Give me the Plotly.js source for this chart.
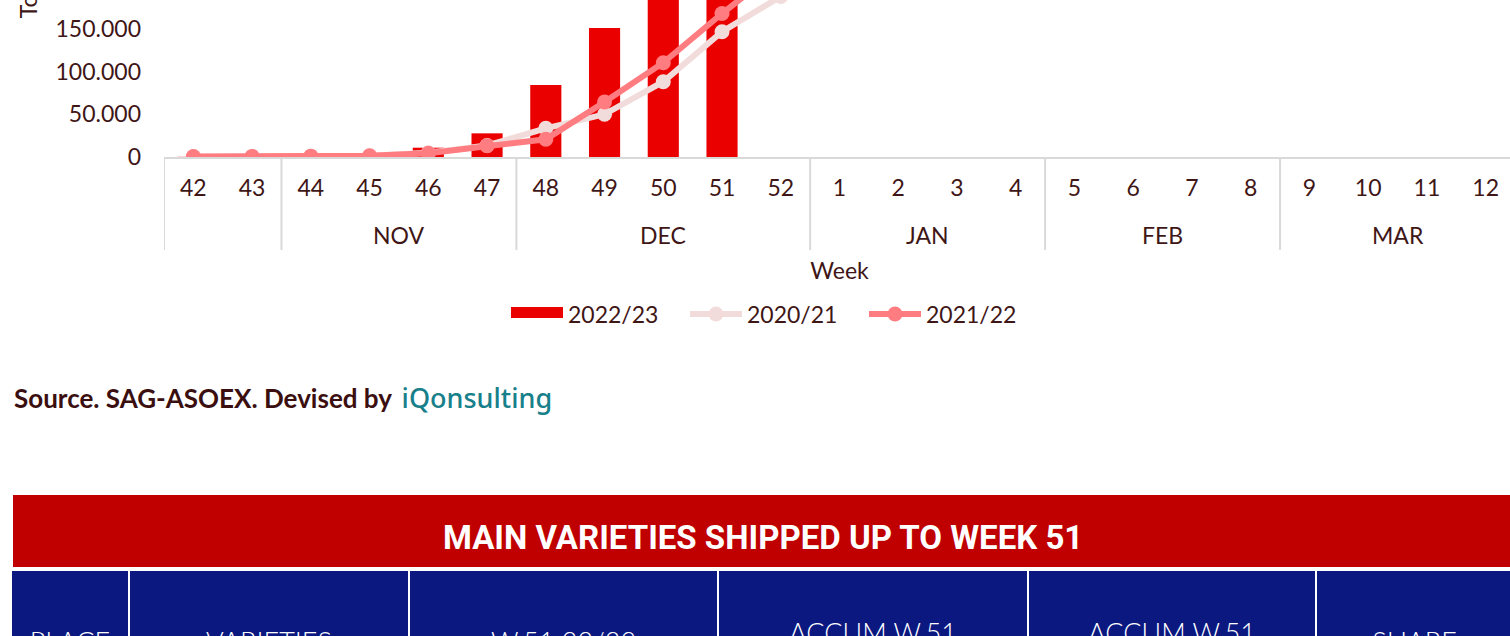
<!DOCTYPE html>
<html><head><meta charset="utf-8">
<script src="https://cdn.plot.ly/plotly-3.0.1.min.js"></script>
<style>
html,body{margin:0;padding:0;overflow:hidden;background:#fff;width:1510px;height:636px;}
#chart{position:absolute;left:0;top:-188px;width:1540px;height:545px;}
#source{position:absolute;left:14px;top:379px;font-family:Lato,sans-serif;font-weight:700;font-size:26px;color:#3b0f0f;white-space:nowrap;}
#source .brand{color:#17808a;font-family:'Noto Sans',sans-serif;font-weight:500;font-size:27px;margin-left:4px;}
#table{position:absolute;left:0;top:495px;width:1530px;height:220px;}
</style></head><body>
<div id="chart"></div>
<div id="source">Source. SAG-ASOEX. Devised by <span class="brand">iQonsulting</span></div>
<div id="table"></div>
<script>
const weeks = ['42','43','44','45','46','47','48','49','50','51','52','1','2','3','4','5','6','7','8','9','10','11','12'];
const months = [' ',' ','NOV','NOV','NOV','NOV','DEC','DEC','DEC','DEC','DEC','JAN','JAN','JAN','JAN','FEB','FEB','FEB','FEB','MAR','MAR','MAR','MAR'];
const exports2223 = [200,400,1000,2000,10900,27700,84300,151000,222000,290000,null,null,null,null,null,null,null,null,null,null,null,null,null];
const exports2021 = [300,600,1000,1500,5000,13500,33600,50000,88200,146700,188000,225000,258000,283000,302000,318000,330000,339000,345000,349000,352000,354000,356000];
const exports2122 = [500,700,1000,1500,4300,13200,20700,64400,110400,168000,222000,268000,300000,325000,345000,360000,370000,378000,383000,387000,390000,392000,393000];
const seriesNames = ['2022/23','2020/21','2021/22'];
const axisTitles = {x:'Week', y:'Tons'};
const tableTitle = 'MAIN VARIETIES SHIPPED UP TO WEEK 51';
const tableHeaders = ['PLACE','VARIETIES','W.51 22/23','ACCUM W.51<br>2022/23','ACCUM W.51<br>2021/22','SHARE'];
const columnWidths = [118,280,309,310,288,197];

const textColor = '#3f1616';
const baseFont = {family:'Lato, sans-serif', size:23, color:textColor};
const colors = {bar:'#EB0000', s2021:'#F2DCDB', s2122:'#FF7C80', divider:'#d9d9d9'};

// month groups -> dividers and group labels on the category axis
const groups = [];
months.forEach((m, i) => {
  const g = groups[groups.length - 1];
  if (g && g.name === m) g.end = i; else groups.push({name:m, start:i, end:i});
});
// numeric category serial position (tiny offset keeps integers from being read as category names)
const catPos = v => Number.isInteger(v) ? v + 1e-6 : v;
const dividerDepth = -93/324;
const shapes = groups.map(g => ({type:'line', xref:'x', yref:'paper', x0:g.start-0.5, x1:g.start-0.5, y0:0, y1:dividerDepth, line:{color:colors.divider, width:2}}));
const lastG = groups[groups.length - 1];
shapes.push({type:'line', xref:'x', yref:'paper', x0:lastG.end+0.5, x1:lastG.end+0.5, y0:0, y1:dividerDepth, line:{color:colors.divider, width:2}});
const annotations = groups.filter(g => g.name.trim()).map(g => ({
  xref:'x', yref:'paper', x:catPos((g.start + g.end) / 2), y:-78/324, yanchor:'middle', xanchor:'center',
  text:g.name, showarrow:false, font:baseFont
}));

const traces = [
  {type:'bar', x:weeks, y:exports2223, name:seriesNames[0], marker:{color:colors.bar}, showlegend:false},
  {type:'scatter', mode:'lines', x:[weeks[0]], y:[null], name:seriesNames[0], fill:'toself', fillcolor:colors.bar, line:{color:colors.bar, width:10}},
  {type:'scatter', mode:'lines+markers', x:weeks, y:exports2021, name:seriesNames[1], line:{color:colors.s2021, width:6}, marker:{color:colors.s2021, size:15}},
  {type:'scatter', mode:'lines+markers', x:weeks, y:exports2122, name:seriesNames[2], line:{color:colors.s2122, width:6}, marker:{color:colors.s2122, size:15}}
];

const layout = {
  width:1540, height:545,
  margin:{l:164, r:25, t:21, b:200},
  paper_bgcolor:'#fff', plot_bgcolor:'#fff',
  separators:',.',
  font:baseFont,
  bargap:0.47,
  hovermode:false,
  showlegend:true,
  legend:{orientation:'h', x:(506-164)/1351, xanchor:'left', y:-157/324, yanchor:'middle', font:baseFont, itemwidth:52, entrywidth:112, traceorder:'normal'},
  xaxis:{type:'category', range:[-0.5, weeks.length-0.5], showline:true, linecolor:colors.divider, linewidth:2, ticks:'', tickfont:baseFont, ticklabelstandoff:9, showgrid:false, zeroline:false, title:{text:axisTitles.x, font:baseFont, standoff:63}},
  yaxis:{range:[0,379400], dtick:50000, tickformat:',d', ticks:'', showgrid:false, zeroline:false, showline:false, tickfont:baseFont, ticklabelstandoff:22, title:{text:axisTitles.y, font:baseFont, standoff:11}},
  shapes:shapes,
  annotations:annotations
};
Plotly.newPlot('chart', traces, layout, {staticPlot:true, displayModeBar:false});

// table header: structure + two text layers
const figH = 220, figTop = 495;
const yTop = py => 1 - (py - figTop) / figH;
const tx = [11/1530, 1513/1530];
const headerFont = {family:'Lato, sans-serif', size:27, color:'#ffffff', weight:300};
const clear = 'rgba(0,0,0,0)';
const blank = tableHeaders.map(() => ['']);
const twoLine = tableHeaders.map(h => [h.includes('<br>') ? h : '']);
const oneLine = tableHeaders.map(h => [h.includes('<br>') ? '' : h]);
const tableTrace = (vals, top, fill, lineW) => ({
  type:'table', domain:{x:tx, y:[0, yTop(top)]}, columnwidth:columnWidths,
  header:{values:vals, fill:{color:fill}, line:{color:'#ffffff', width:lineW}, align:'center', height:110, font:headerFont},
  cells:{values:blank, fill:{color:clear}, line:{color:clear, width:0}, height:30}
});
const tLayout = {
  width:1530, height:figH, margin:{l:0,r:0,t:0,b:0}, paper_bgcolor:'rgba(0,0,0,0)',
  shapes:[{type:'rect', xref:'paper', yref:'paper', x0:13/1530, x1:1, y0:yTop(567), y1:1, fillcolor:'#C00000', line:{width:0}}],
  annotations:[{xref:'paper', yref:'paper', x:763/1530, y:yTop(538), xanchor:'center', yanchor:'middle', showarrow:false, text:'<b>'+tableTitle+'</b>', font:{family:'Roboto, sans-serif', size:33, color:'#ffffff'}}]
};
Plotly.newPlot('table', [
  tableTrace(blank, 570, '#0A1880', 2),
  tableTrace(twoLine, 608, clear, 0),
  tableTrace(oneLine, 624, clear, 0)
], tLayout, {staticPlot:true, displayModeBar:false});
</script>
</body></html>
